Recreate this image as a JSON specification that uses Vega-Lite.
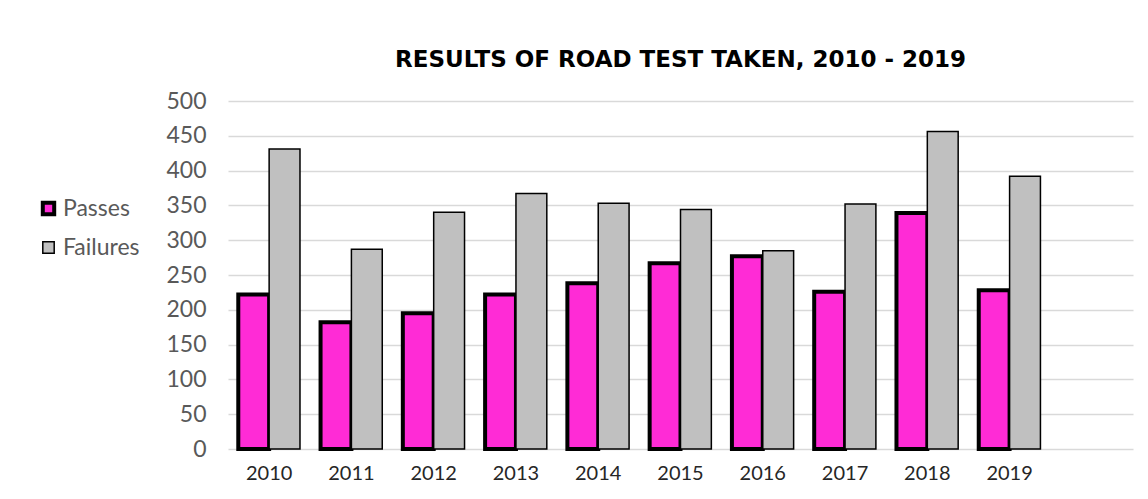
{
  "$schema": "https://vega.github.io/schema/vega-lite/v6.json",
  "autosize": {"type": "none"},
  "padding": {"left": 228, "top": 101, "right": 15, "bottom": 50},
  "width": 905,
  "height": 348,
  "background": "white",
  "title": {
    "text": "RESULTS OF ROAD TEST TAKEN, 2010 - 2019",
    "font": "DejaVu Sans",
    "fontSize": 23,
    "fontWeight": "bold",
    "color": "#000000",
    "anchor": "middle",
    "frame": "group",
    "baseline": "alphabetic",
    "offset": 0
  },
  "data": {
    "values": [
      {"year": "2010", "series": "Passes", "value": 222},
      {"year": "2011", "series": "Passes", "value": 182},
      {"year": "2012", "series": "Passes", "value": 195},
      {"year": "2013", "series": "Passes", "value": 222},
      {"year": "2014", "series": "Passes", "value": 238},
      {"year": "2015", "series": "Passes", "value": 267},
      {"year": "2016", "series": "Passes", "value": 277},
      {"year": "2017", "series": "Passes", "value": 226},
      {"year": "2018", "series": "Passes", "value": 339},
      {"year": "2019", "series": "Passes", "value": 228},
      {"year": "2010", "series": "Failures", "value": 431},
      {"year": "2011", "series": "Failures", "value": 287},
      {"year": "2012", "series": "Failures", "value": 340},
      {"year": "2013", "series": "Failures", "value": 367},
      {"year": "2014", "series": "Failures", "value": 353},
      {"year": "2015", "series": "Failures", "value": 344},
      {"year": "2016", "series": "Failures", "value": 285},
      {"year": "2017", "series": "Failures", "value": 352},
      {"year": "2018", "series": "Failures", "value": 456},
      {"year": "2019", "series": "Failures", "value": 392}
    ]
  },
  "mark": {"type": "bar", "stroke": "#000000"},
  "encoding": {
    "x": {
      "field": "year",
      "type": "nominal",
      "scale": {
        "domain": ["2010", "2011", "2012", "2013", "2014", "2015", "2016", "2017", "2018", "2019", " "],
        "paddingInner": 0.25,
        "paddingOuter": 0.125
      },
      "axis": {
        "title": null,
        "labelAngle": 0,
        "domain": false,
        "ticks": false,
        "labelPadding": 14,
        "labelFont": "Lato",
        "labelFontSize": 20,
        "labelColor": "#262626",
        "labelBaseline": "top"
      }
    },
    "xOffset": {
      "field": "series",
      "type": "nominal",
      "scale": {"domain": ["Passes", "Failures"], "paddingInner": 0, "paddingOuter": 0}
    },
    "y": {
      "field": "value",
      "type": "quantitative",
      "scale": {"domain": [0, 500], "nice": false},
      "axis": {
        "title": null,
        "values": [0, 50, 100, 150, 200, 250, 300, 350, 400, 450, 500],
        "domain": false,
        "ticks": false,
        "labelPadding": 22,
        "labelFont": "Lato",
        "labelFontSize": 23,
        "labelColor": "#595959",
        "gridColor": "#d9d9d9",
        "gridWidth": 1.5
      }
    },
    "color": {
      "field": "series",
      "type": "nominal",
      "scale": {"domain": ["Passes", "Failures"], "range": ["#ff2bd6", "#c0c0c0"]},
      "legend": {
        "title": null,
        "orient": "none",
        "legendX": -191,
        "legendY": 96,
        "padding": 0,
        "symbolType": "square",
        "symbolSize": 130,
        "symbolStrokeColor": "#000000",
        "symbolOpacity": 1,
        "labelFont": "Lato",
        "labelFontSize": 23,
        "labelColor": "#595959",
        "labelOffset": 3,
        "rowPadding": 13,
        "encode": {
          "symbols": {"update": {"strokeWidth": {"signal": "datum.value === 'Passes' ? 4 : 2"}, "stroke": {"value": "#000000"}}}
        }
      }
    },
    "strokeWidth": {
      "field": "series",
      "type": "nominal",
      "scale": {"domain": ["Passes", "Failures"], "range": [4, 1.5]},
      "legend": null
    }
  },
  "config": {"view": {"stroke": null}}
}
